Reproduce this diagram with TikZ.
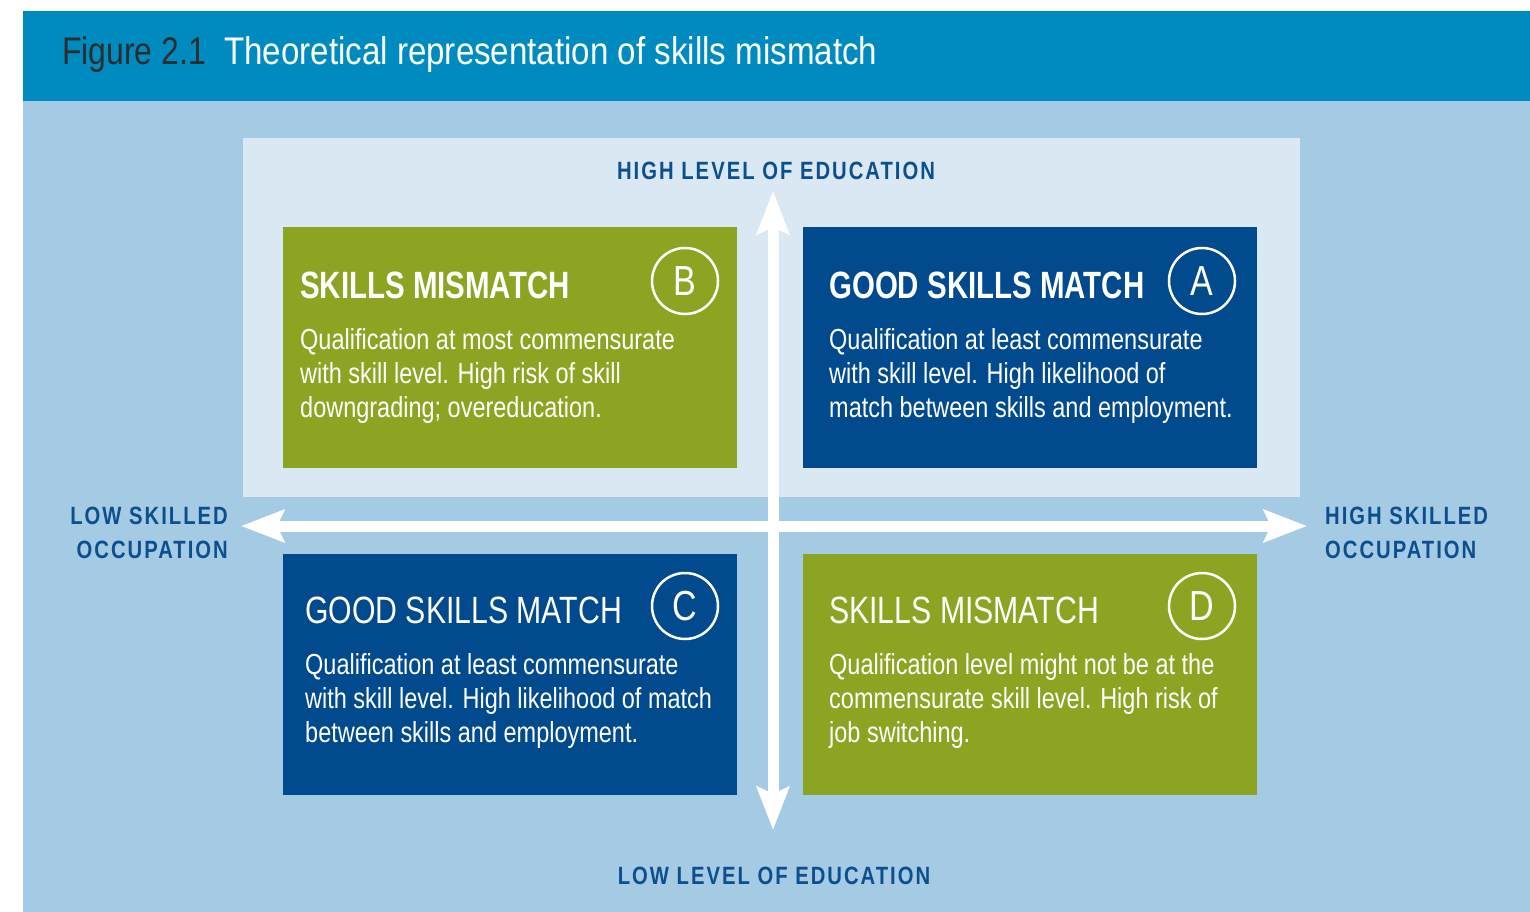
\documentclass[tikz,border=0pt]{standalone}
\usepackage{fontspec}
\setmainfont{Liberation Sans}[FakeStretch=0.81]
\newfontfamily\axisfont{Liberation Sans}[FakeStretch=0.81,LetterSpace=8]
\newfontfamily\headboldfont{Liberation Sans}[FakeStretch=0.775]
\newfontfamily\headregfont{Liberation Sans}[FakeStretch=0.795]
\newfontfamily\titlefont{Liberation Sans}[FakeStretch=0.86]
\newfontfamily\figfont{Liberation Sans}[FakeStretch=0.83]
\usetikzlibrary{arrows.meta}
\definecolor{bannerblue}{HTML}{008BC0}
\definecolor{lightbg}{HTML}{A5CAE4}
\definecolor{innerbg}{HTML}{D9E8F3}
\definecolor{boxgreen}{HTML}{8BA523}
\definecolor{boxblue}{HTML}{004A8D}
\definecolor{axisblue}{HTML}{0B4F8F}
\definecolor{titlegray}{HTML}{2D2D2D}
\newcommand{\threelines}[3]{\vtop{\baselineskip=34pt\hbox{#1}\hbox{#2}\hbox{#3}}}
\tikzset{
  quad/.style={rectangle, inner sep=0pt, minimum width=454pt, minimum height=241pt},
  headbold/.style={anchor=base west, inner sep=0pt, text=white, font=\fontsize{38}{44}\headboldfont\bfseries},
  headreg/.style={anchor=base west, inner sep=0pt, text=white, font=\fontsize{38}{44}\headregfont},
  bodytext/.style={anchor=base west, inner sep=0pt, text=white, font=\fontsize{29}{34}\selectfont},
  letter/.style={circle, draw=white, line width=2.5pt, minimum size=66pt, inner sep=0pt, text=white, font=\fontsize{42}{42}\selectfont},
  axislabel/.style={inner sep=0pt, text=axisblue, font=\fontsize{25}{32}\axisfont\bfseries},
  bigarrow/.style={draw=white, line width=11pt, {Stealth[length=43pt,width=32pt,inset=7pt]}-{Stealth[length=43pt,width=32pt,inset=7pt]}}
}
\begin{document}
\begin{tikzpicture}[x=1pt,y=-1pt]
\useasboundingbox (0,0) rectangle (1530,912);
\fill[white] (0,0) rectangle (1530,912);
% backgrounds
\fill[lightbg] (23,101) rectangle (1530,912);
\fill[bannerblue] (23,11) rectangle (1530,101);
\fill[innerbg] (243,138) rectangle (1300,497);
% title
\node[anchor=base west, inner sep=0pt, text=titlegray, font=\fontsize{38.5}{44}\figfont] (fig) at (62,65) {Figure 2.1};
\node[anchor=base west, inner sep=0pt, text=white, font=\fontsize{38.5}{44}\titlefont] (title) at (224,65) {Theoretical representation of skills mismatch};
% quadrant boxes
\node[quad, fill=boxgreen] (boxB) at (510,347.5) {};
\node[quad, fill=boxblue] (boxA) at (1030,347.5) {};
\node[quad, fill=boxblue] (boxC) at (510,674.5) {};
\node[quad, fill=boxgreen] (boxD) at (1030,674.5) {};
% box B
\node[headbold] (hB) at (300,298) {SKILLS MISMATCH};
\node[letter] (cB) at (685,281) {B};
\node[bodytext] (tB) at (300,349) {\threelines{Qualification at most commensurate}{with skill level. High risk of skill}{downgrading; overeducation.}};
% box A
\node[headbold] (hA) at (829,298) {GOOD SKILLS MATCH};
\node[letter] (cA) at (1202,281) {A};
\node[bodytext] (tA) at (829,349) {\threelines{Qualification at least commensurate}{with skill level. High likelihood of}{match between skills and employment.}};
% box C
\node[headreg] (hC) at (305,623) {GOOD SKILLS MATCH};
\node[letter] (cC) at (685,606) {C};
\node[bodytext] (tC) at (305,674) {\threelines{Qualification at least commensurate}{with skill level. High likelihood of match}{between skills and employment.}};
% box D
\node[headreg] (hD) at (829,623) {SKILLS MISMATCH};
\node[letter] (cD) at (1202,606) {D};
\node[bodytext] (tD) at (829,674) {\threelines{Qualification level might not be at the}{commensurate skill level. High risk of}{job switching.}};
% arrows
\coordinate (Lend) at (241,526);
\coordinate (Rend) at (1307,526);
\coordinate (Tend) at (773,191);
\coordinate (Bend) at (773,830);
\draw[bigarrow] (Lend) -- (Rend);
\draw[bigarrow] (Tend) -- (Bend);
% axis labels
\node[axislabel, anchor=base] (hiedu) at (776,179) {HIGH LEVEL OF EDUCATION};
\node[axislabel, anchor=base] (loedu) at (774,884) {LOW LEVEL OF EDUCATION};
\node[axislabel, anchor=base east] (lo1) at (228,524) {LOW SKILLED};
\node[axislabel, anchor=base east] (lo2) at (228,558) {OCCUPATION};
\node[axislabel, anchor=base west] (hi1) at (1325,524) {HIGH SKILLED};
\node[axislabel, anchor=base west] (hi2) at (1325,558) {OCCUPATION};
\end{tikzpicture}
\end{document}
